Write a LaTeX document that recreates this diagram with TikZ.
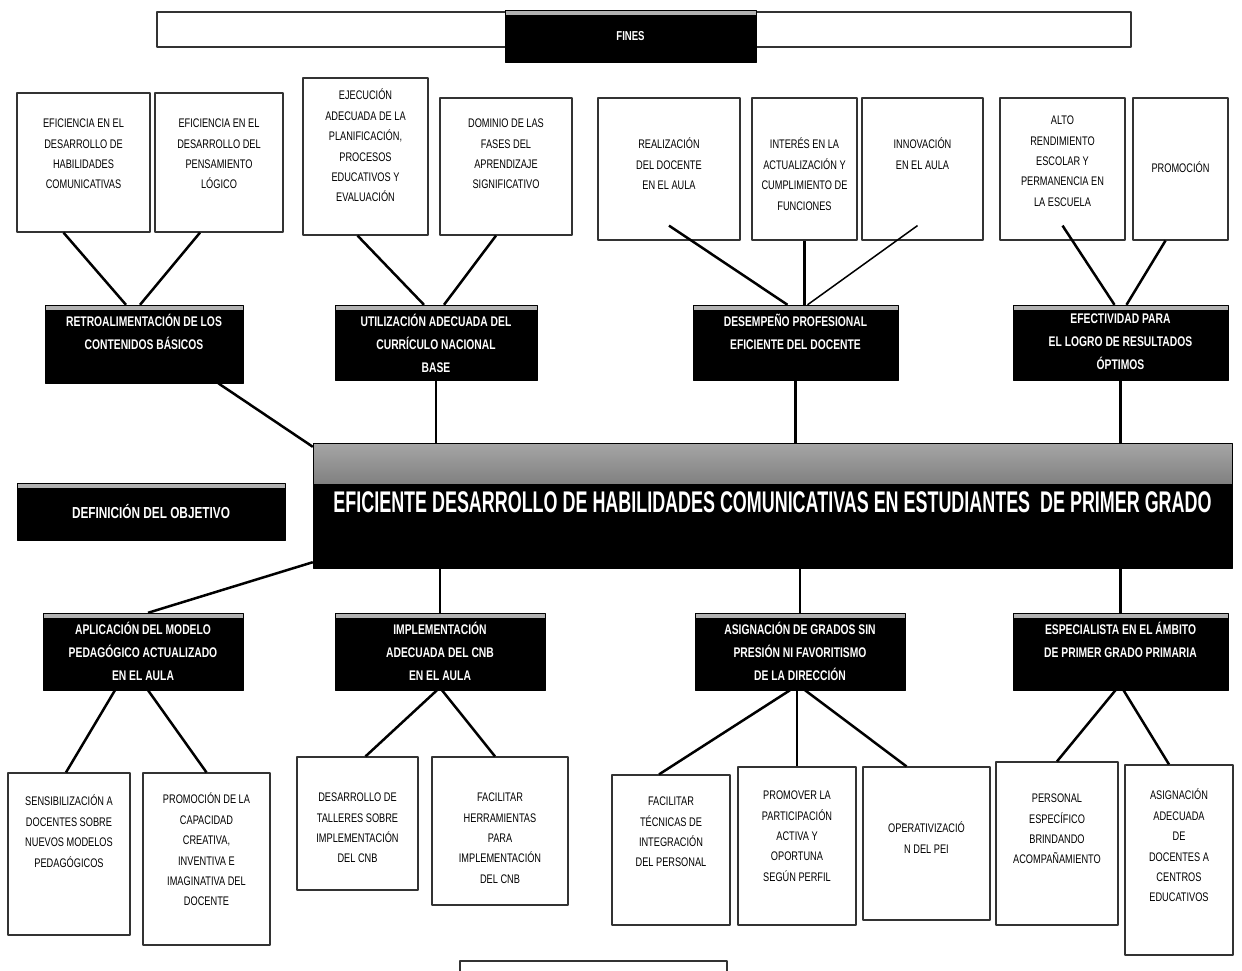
\documentclass[tikz,border=0pt]{standalone}
\usepackage{fontspec}
\setmainfont{Liberation Sans}
\newfontfamily\narrowfont[FakeStretch=0.74]{Liberation Sans}
\newfontfamily\titlefont[FakeStretch=0.6]{Liberation Sans}

\newcommand{\cell}[4]{\parbox[t][#2][t]{#1}{\centering\vspace*{#3}#4}}

\begin{document}
\begin{tikzpicture}[join=bevel]
 \tikzstyle{leaf}=[draw=black!80,line width=1.2bp,fill=white,inner sep=0pt,font=\narrowfont\fontsize{12.5}{20.5}\selectfont]
 \tikzstyle{dark}=[draw=black,fill=black,text=white,inner sep=0pt,font=\narrowfont\bfseries\fontsize{14}{23}\selectfont,
   path picture={\fill[black!30] (path picture bounding box.north west) rectangle ([yshift=-5bp]path picture bounding box.north east);}]
 \tikzstyle{link}=[line width=2.5bp]
 \useasboundingbox (0bp,0bp) rectangle (1242bp,-971bp);

 \node (finesframe) at (644bp,-29.5bp) [draw=black!80,line width=1.2bp,minimum width=974bp,minimum height=35bp,inner sep=0pt] {};
 \node (fines) at (630.5bp,-36bp) [dark,minimum width=251bp,minimum height=52bp,font=\narrowfont\bfseries\fontsize{13}{14}\selectfont] {FINES};

 % fines
 \node (A1) at (83.5bp,-162.5bp) [leaf] {\cell{133bp}{139bp}{26bp}{EFICIENCIA EN EL\\DESARROLLO DE\\HABILIDADES\\COMUNICATIVAS}};
 \node (A2) at (219bp,-162.5bp) [leaf] {\cell{128bp}{139bp}{26bp}{EFICIENCIA EN EL\\DESARROLLO DEL\\PENSAMIENTO\\LÓGICO}};
 \node (B1) at (365.5bp,-156.5bp) [leaf] {\cell{125bp}{157bp}{11bp}{EJECUCIÓN\\ADECUADA DE LA\\PLANIFICACIÓN,\\PROCESOS\\EDUCATIVOS Y\\EVALUACIÓN}};
 \node (B2) at (506bp,-166.5bp) [leaf] {\cell{132bp}{137bp}{21bp}{DOMINIO DE LAS\\FASES DEL\\APRENDIZAJE\\SIGNIFICATIVO}};
 \node (C1) at (669bp,-169bp) [leaf] {\cell{142bp}{142bp}{40bp}{REALIZACIÓN\\DEL DOCENTE\\EN EL AULA}};
 \node (C2) at (804.5bp,-169bp) [leaf] {\cell{105bp}{142bp}{40bp}{INTERÉS EN LA\\ACTUALIZACIÓN Y\\CUMPLIMIENTO DE\\FUNCIONES}};
 \node (C3) at (922.5bp,-169bp) [leaf] {\cell{121bp}{142bp}{40bp}{INNOVACIÓN\\EN EL AULA}};
 \node (D1) at (1062.5bp,-169bp) [leaf] {\cell{125bp}{142bp}{18bp}{ALTO\\RENDIMIENTO\\ESCOLAR Y\\PERMANENCIA EN\\LA ESCUELA}};
 \node (D2) at (1180.5bp,-169bp) [leaf] {\cell{95bp}{142bp}{64bp}{PROMOCIÓN}};

 \node (A) at (144bp,-344bp) [dark] {\cell{198bp}{78bp}{9bp}{RETROALIMENTACIÓN DE LOS\\CONTENIDOS BÁSICOS}};
 \node (B) at (436bp,-342.5bp) [dark] {\cell{202bp}{75bp}{9bp}{UTILIZACIÓN ADECUADA DEL\\CURRÍCULO NACIONAL\\BASE}};
 \node (C) at (795.5bp,-342.5bp) [dark] {\cell{205bp}{75bp}{9bp}{DESEMPEÑO PROFESIONAL\\EFICIENTE DEL DOCENTE}};
 \node (D) at (1120.5bp,-342.5bp) [dark] {\cell{215bp}{75bp}{9bp}{EFECTIVIDAD PARA\\EL LOGRO DE RESULTADOS\\ÓPTIMOS}};

 \node (goalname) at (151bp,-511.5bp) [dark,minimum width=268bp,minimum height=57bp,font=\narrowfont\bfseries\fontsize{16}{18}\selectfont] {DEFINICIÓN DEL OBJETIVO};
 \node (goal) at (772.5bp,-505.5bp) [dark,minimum width=919bp,minimum height=125bp,font=\titlefont\bfseries\fontsize{30}{32}\selectfont,
   path picture={\shade[top color=black!35,bottom color=black!80] (path picture bounding box.north west) rectangle ([yshift=-40bp]path picture bounding box.north east);}]
   {\raisebox{6bp}{EFICIENTE DESARROLLO DE HABILIDADES COMUNICATIVAS EN ESTUDIANTES\ \ DE PRIMER GRADO}};

 % medios
 \node (E) at (143bp,-651.5bp) [dark] {\cell{200bp}{77bp}{9bp}{APLICACIÓN DEL MODELO\\PEDAGÓGICO ACTUALIZADO\\EN EL AULA}};
 \node (F) at (440bp,-651.5bp) [dark] {\cell{210bp}{77bp}{9bp}{IMPLEMENTACIÓN\\ADECUADA DEL CNB\\EN EL AULA}};
 \node (G) at (800bp,-651.5bp) [dark] {\cell{210bp}{77bp}{9bp}{ASIGNACIÓN DE GRADOS SIN\\PRESIÓN NI FAVORITISMO\\DE LA DIRECCIÓN}};
 \node (H) at (1120.5bp,-651.5bp) [dark] {\cell{215bp}{77bp}{9bp}{ESPECIALISTA EN EL ÁMBITO\\DE PRIMER GRADO PRIMARIA}};

 \node (E1) at (69bp,-854bp) [leaf] {\cell{122bp}{162bp}{22bp}{SENSIBILIZACIÓN A\\DOCENTES SOBRE\\NUEVOS MODELOS\\PEDAGÓGICOS}};
 \node (E2) at (206.5bp,-859bp) [leaf] {\cell{127bp}{172bp}{20bp}{PROMOCIÓN DE LA\\CAPACIDAD\\CREATIVA,\\INVENTIVA E\\IMAGINATIVA DEL\\DOCENTE}};
 \node (F1) at (357.5bp,-823.5bp) [leaf] {\cell{121bp}{133bp}{36bp}{DESARROLLO DE\\TALLERES SOBRE\\IMPLEMENTACIÓN\\DEL CNB}};
 \node (F2) at (500bp,-831bp) [leaf] {\cell{136bp}{148bp}{36bp}{FACILITAR\\HERRAMIENTAS\\PARA\\IMPLEMENTACIÓN\\DEL CNB}};
 \node (G1) at (671bp,-850bp) [leaf] {\cell{118bp}{150bp}{22bp}{FACILITAR\\TÉCNICAS DE\\INTEGRACIÓN\\DEL PERSONAL}};
 \node (G2) at (797bp,-846bp) [leaf] {\cell{118bp}{158bp}{24bp}{PROMOVER LA\\PARTICIPACIÓN\\ACTIVA Y\\OPORTUNA\\SEGÚN PERFIL}};
 \node (G3) at (926.5bp,-843.5bp) [leaf] {\cell{127bp}{153bp}{55bp}{OPERATIVIZACIÓ\\N DEL PEI}};
 \node (H1) at (1057bp,-843.5bp) [leaf] {\cell{122bp}{163bp}{32bp}{PERSONAL\\ESPECÍFICO\\BRINDANDO\\ACOMPAÑAMIENTO}};
 \node (H2) at (1179bp,-860bp) [leaf] {\cell{108bp}{190bp}{24bp}{ASIGNACIÓN\\ADECUADA\\DE\\DOCENTES A\\CENTROS\\EDUCATIVOS}};

 \node (medios) at (593.5bp,-972bp) [leaf,minimum width=267bp,minimum height=22bp] {};

 \draw[link] ([xshift=-20bp]A1.south) -- ([xshift=-18bp]A.north);
 \draw[link] ([xshift=-19bp]A2.south) -- ([xshift=-4bp]A.north);
 \draw[link] ([xshift=-8bp]B1.south) -- ([xshift=-12bp]B.north);
 \draw[link] ([xshift=-10bp]B2.south) -- ([xshift=8bp]B.north);
 \draw[link] ([yshift=15bp]C1.south) -- ([xshift=-8bp]C.north);
 \draw[link] (C.north -| C2.south) -- (C2.south);
 \draw[link,line width=1.5bp] ([xshift=-5bp,yshift=15bp]C3.south) -- ([xshift=12bp]C.north);
 \draw[link] ([yshift=15bp]D1.south) -- ([xshift=-6bp]D.north);
 \draw[link] ([xshift=-15bp]D2.south) -- ([xshift=6bp]D.north);

 \draw[link] ([xshift=-25bp]A.south east) -- ([yshift=-4bp]goal.north west);
 \draw[link] (B.south) -- (B.south |- goal.north);
 \draw[link] (C.south) -- (C.south |- goal.north);
 \draw[link] (D.south) -- (D.south |- goal.north);
 \draw[link] ([yshift=6bp]goal.south west) -- ([xshift=5bp]E.north);
 \draw[link] (F.north) -- (F.north |- goal.south);
 \draw[link] (G.north) -- (G.north |- goal.south);
 \draw[link] (H.north) -- (H.north |- goal.south);

 \draw[link] ([xshift=-28bp]E.south) -- ([xshift=-3bp]E1.north);
 \draw[link] ([xshift=5bp]E.south) -- (E2.north);
 \draw[link] ([xshift=-3bp]F.south) -- ([xshift=8bp]F1.north);
 \draw[link] ([xshift=2bp]F.south) -- ([xshift=-5bp]F2.north);
 \draw[link] ([xshift=-10bp]G.south) -- ([xshift=-12bp]G1.north);
 \draw[link] (G2.north |- G.south) -- (G2.north);
 \draw[link] ([xshift=5bp]G.south) -- ([xshift=-20bp]G3.north);
 \draw[link] ([xshift=-5bp]H.south) -- (H1.north);
 \draw[link] ([xshift=3bp]H.south) -- ([xshift=-10bp]H2.north);
\end{tikzpicture}
\end{document}
